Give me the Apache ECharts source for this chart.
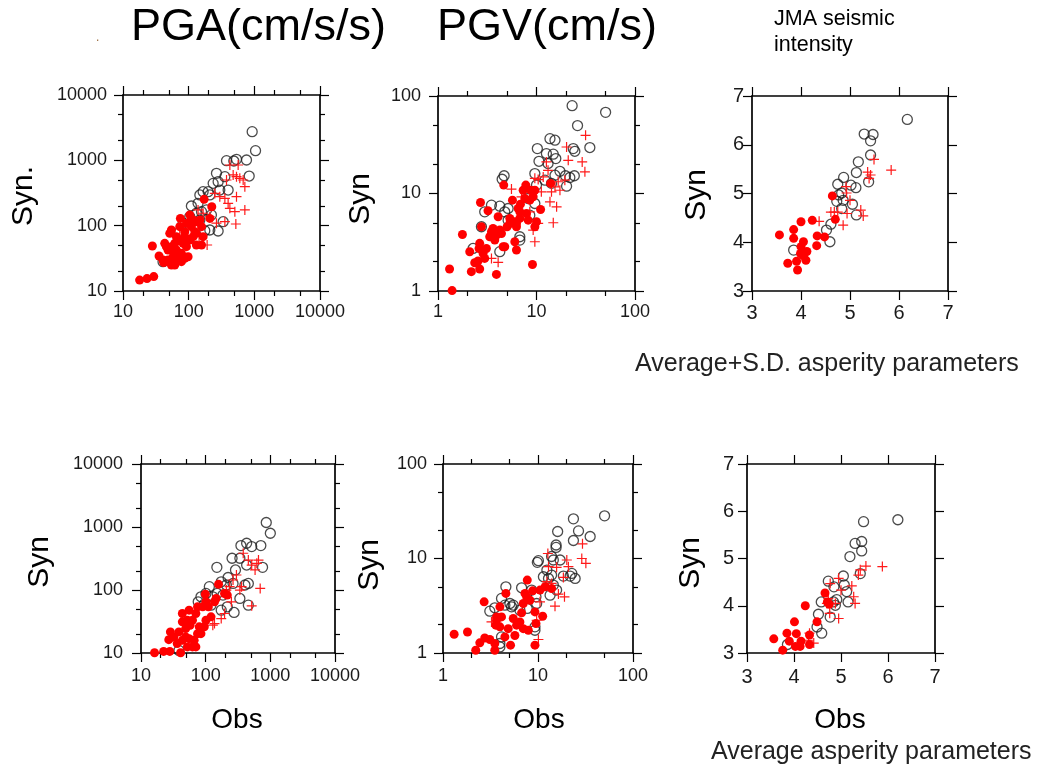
<!DOCTYPE html>
<html><head><meta charset="utf-8">
<script src="https://cdn.jsdelivr.net/npm/echarts@6/dist/echarts.min.js"></script>
<style>html,body{margin:0;padding:0;background:#fff}#c{width:1043px;height:766px}</style>
</head><body><div id="c"></div>
<script>
// ---- tick values ----
const pgaTicks = [10, 100, 1000, 10000];
const pgaMinor = [20, 50, 200, 500, 2000, 5000];
const pgvTicks = [1, 10, 100];
const pgvMinor = [2, 5, 20, 50];
const jmaTicks = [3, 4, 5, 6, 7];

// ---- Average+S.D. asperity parameters (top row): [Obs, Syn] ----
const pgaTopCircle = [[927,2748],[1043,1406],[760,1012],[535,1035],[377,988],[487,977],[835,575],[265,632],[356,562],[236,444],[281,471],[198,331],[166,331],[148,295],[210,295],[298,351],[110,200],[139,220],[187,174],[157,164],[131,155],[222,146],[335,115],[281,82.8],[176,83.8],[210,85.8],[399,351],[148,122],[104,137],[82.2,109],[73.1,80.9],[40.7,28.1]];
const pgaTopPlus = [[73.1,71.9],[92.5,67.9],[144,69.5],[191,50.6],[265,109],[356,115],[424,184],[505,164],[717,174],[523,106],[399,220],[535,278],[601,530],[717,395],[535,562],[476,597],[567,849],[424,849],[377,500],[298,278],[250,312],[210,137],[166,155],[139,174],[356,262],[676,500]];
const pgaTopDot = [[17.9,14.7],[23.2,15.5],[29.4,16.6],[28.0,48.8],[35.4,34.3],[40.7,29.8],[41.7,27.2],[54.6,25.0],[57.9,33.5],[48.5,42.4],[43.2,53.7],[51.5,76.3],[54.6,85.8],[74.8,129],[104,146],[73.1,96.5],[87.3,67.9],[110,96.5],[117,67.9],[92.5,47.7],[77.6,37.7],[65.0,42.4],[61.4,53.7],[69.0,60.3],[82.2,53.7],[98.0,60.3],[104,115],[131,115],[148,122],[157,96.5],[157,50.6],[172,253],[225,195],[210,129],[166,67.9],[131,76.3],[69.0,29.8],[61.4,25.0],[87.3,31.6],[45.8,47.7],[54.6,47.7],[65.0,67.9],[87.3,80.9],[104,60.3],[124,80.9],[61.4,37.7],[77.6,28.1],[98.0,33.5],[48.5,29.8],[131,50.6],[92.5,109],[117,122]];

const pgvTopCircle = [[23.0,79.6],[50.3,68.0],[26.1,49.7],[34.8,29.6],[23.6,28.9],[24.5,27.1],[13.7,36.5],[15.4,35.2],[10.2,28.9],[12.6,25.7],[14.8,25.3],[15.7,22.8],[10.6,21.4],[13.1,20.3],[17.3,16.9],[19.7,15.2],[21.8,14.6],[24.2,15.2],[20.2,11.9],[15.4,15.4],[9.62,16.0],[4.69,15.2],[4.48,14.0],[4.24,7.42],[3.49,7.60],[2.98,6.49],[4.76,6.49],[5.15,7.02],[2.76,4.56],[2.27,2.73],[4.24,2.53],[6.77,3.60],[8.55,6.00],[9.62,7.90],[8.23,8.89],[12.2,13.7],[14.2,12.7],[10.0,12.2],[6.77,3.33],[5.15,5.33]];
const pgvTopPlus = [[5.57,11.1],[7.04,9.25],[9.62,14.3],[10.4,13.9],[11.7,14.8],[12.6,21.1],[13.1,17.3],[11.2,10.4],[13.7,8.22],[16.0,7.30],[14.2,10.4],[17.3,10.8],[19.4,13.7],[20.2,30.0],[21.0,21.9],[29.1,21.1],[31.5,39.5],[31.0,16.7],[9.62,3.20],[9.25,4.22],[14.8,5.01],[10.4,4.93],[16.6,13.2],[15.4,11.7],[3.49,2.16],[4.08,1.97],[8.55,6.49]];
const pgvTopDot = [[1.31,1.68],[1.39,1.01],[1.77,3.80],[2.18,1.58],[2.65,1.68],[2.10,2.53],[2.36,1.95],[2.55,2.03],[2.65,3.08],[2.76,4.56],[2.70,8.09],[3.22,6.65],[2.61,2.73],[2.87,2.43],[3.10,2.73],[2.98,2.16],[3.35,3.60],[3.49,4.05],[3.77,3.33],[3.92,3.74],[4.08,5.77],[4.24,4.22],[4.41,3.89],[4.65,12.2],[4.58,2.84],[4.76,2.84],[5.03,4.56],[5.36,4.93],[5.70,8.55],[6.02,5.13],[6.26,4.56],[6.51,7.02],[6.26,4.93],[6.77,5.55],[6.87,7.78],[7.32,10.8],[7.61,8.89],[7.79,12.2],[7.91,6.24],[8.55,8.55],[8.75,10.8],[9.25,9.25],[9.62,10.8],[10.0,5.13],[9.62,4.56],[11.0,6.86],[6.26,2.63],[6.02,3.20],[3.92,1.48],[9.10,1.87],[13.9,12.7],[5.36,5.55],[3.62,4.38],[6.77,6.49],[8.23,5.33]];

const jmaTopCircle = [[6.17,6.52],[5.29,6.22],[5.47,6.21],[5.42,6.08],[5.42,5.79],[5.17,5.65],[5.13,5.43],[4.87,5.33],[4.75,5.19],[4.83,5.01],[5.02,5.17],[5.12,5.12],[5.05,4.78],[4.83,4.69],[4.86,4.86],[4.73,4.84],[4.77,4.97],[5.13,4.56],[4.59,4.01],[4.52,4.25],[4.61,4.37],[3.85,3.84],[5.38,5.24]];
const jmaTopPlus = [[4.37,4.43],[4.61,4.62],[4.68,4.62],[4.75,4.62],[4.86,4.35],[4.94,4.59],[4.92,5.14],[4.93,5.01],[5.00,4.86],[5.22,4.66],[5.27,4.54],[5.36,5.44],[5.39,5.31],[5.49,5.70],[5.84,5.48],[5.42,5.38]];
const jmaTopDot = [[3.56,4.15],[3.85,4.26],[3.85,4.08],[4.00,4.42],[4.00,3.91],[4.05,4.01],[3.99,3.77],[4.12,3.81],[4.05,3.72],[3.91,3.61],[3.73,3.57],[4.10,3.63],[3.93,3.43],[4.23,4.45],[4.33,4.13],[4.32,3.93],[4.48,4.11],[4.64,4.95],[4.70,4.47]];

// ---- Average asperity parameters (bottom row) ----
const pgaBotCircle = [[865,1178],[1000,796],[713,507],[515,489],[430,552],[351,507],[338,319],[256,319],[149,229],[758,229],[430,249],[289,208],[222,158],[174,135],[209,120],[265,127],[405,120],[457,127],[114,113],[101,88.1],[84.5,78.0],[76.7,65.0],[95.3,59.6],[121,57.5],[151,88.1],[185,83.0],[216,54.1],[275,44.0],[338,73.4],[457,57.5],[174,47.9],[38.6,11.0],[129,78.0]];
const pgaBotPlus = [[381,383],[457,299],[656,299],[515,249],[581,208],[618,265],[697,106],[515,56.1],[359,113],[299,173],[265,144],[235,113],[209,99.6],[250,65.0],[196,42.4],[174,35.2],[129,27.6],[137,29.3],[338,99.6]];
const pgaBotDot = [[16.2,10.1],[22.4,10.6],[27.9,10.6],[41.0,10.1],[26.9,16.3],[28.5,21.6],[43.6,42.4],[43.6,31.2],[55.4,47.9],[52.1,33.1],[57.4,27.6],[49.1,24.4],[38.6,21.6],[32.2,18.0],[43.6,15.9],[55.4,16.9],[66.4,15.9],[70.5,12.5],[74.9,20.3],[84.5,20.3],[79.6,26.0],[62.5,33.1],[70.5,42.4],[74.9,54.1],[89.8,54.1],[101,65.0],[98.8,86.0],[110,54.1],[137,65.0],[145,73.4],[158,123],[196,88.1],[216,83.0],[121,37.5],[101,33.1],[95.3,26.0],[62.5,12.5],[52.1,12.5],[49.1,18.0],[36.3,14.1]];

const pgvBotCircle = [[23.6,26.3],[50.2,28.3],[26.7,19.6],[16.1,19.3],[23.6,15.5],[35.4,17.1],[15.5,13.9],[15.5,13.1],[10.1,9.49],[9.84,9.10],[13.9,10.5],[14.5,9.64],[17.1,9.64],[12.4,7.55],[11.4,6.41],[12.9,6.15],[13.9,6.68],[22.7,6.95],[24.6,6.15],[21.8,6.52],[18.5,6.52],[14.5,5.23],[15.7,4.63],[13.4,4.09],[4.59,5.02],[6.72,4.90],[8.57,4.63],[9.52,3.93],[4.13,3.78],[5.06,3.34],[5.49,3.21],[3.11,2.77],[3.51,3.01],[6.45,2.84],[7.71,2.96],[9.68,3.34],[9.29,1.89],[9.29,1.74],[3.97,1.26],[4.13,1.48],[3.97,1.16],[5.27,3.08],[4.48,3.21]];
const pgvBotPlus = [[12.7,11.3],[12.9,8.19],[15.7,8.06],[20.1,9.64],[20.9,8.19],[29.4,14.3],[28.9,10.0],[31.9,8.89],[12.4,5.68],[13.9,5.45],[18.5,6.31],[16.4,4.20],[19.0,3.93],[15.1,3.13],[9.68,2.22],[10.1,1.39],[3.24,2.13],[10.5,3.48]];
const pgvBotDot = [[1.31,1.58],[1.81,1.67],[2.21,1.07],[2.44,1.28],[2.75,1.44],[3.11,1.39],[3.51,1.07],[3.51,1.26],[2.71,3.48],[3.97,3.08],[4.13,2.41],[3.66,2.41],[3.60,1.97],[3.97,1.89],[4.59,4.27],[4.86,1.81],[5.49,2.32],[5.71,1.53],[5.95,1.97],[6.45,2.13],[6.72,2.66],[7.00,3.34],[7.29,4.27],[7.59,3.93],[7.71,5.91],[8.23,3.62],[8.78,4.55],[9.29,2.72],[9.52,2.05],[10.5,4.63],[11.2,2.45],[11.9,5.02],[13.9,4.82],[9.29,1.21],[5.14,1.21],[4.48,1.48],[3.66,2.22],[7.00,1.81],[7.91,1.74]];

const jmaBotCircle = [[6.21,5.82],[5.48,5.78],[5.44,5.36],[5.30,5.32],[5.44,5.16],[5.19,5.04],[5.41,4.68],[5.05,4.63],[4.73,4.52],[4.85,4.40],[5.07,4.44],[5.12,4.30],[5.15,4.08],[4.91,4.13],[4.58,4.08],[4.84,4.08],[4.88,4.01],[4.77,3.76],[4.52,3.82],[4.49,3.55],[4.59,3.42],[3.86,3.18]];
const jmaBotPlus = [[5.88,4.83],[5.53,4.84],[5.41,4.76],[5.37,4.65],[5.23,4.42],[5.27,4.19],[5.30,4.05],[4.95,4.58],[5.00,4.33],[4.77,4.47],[4.73,4.15],[4.70,4.05],[4.88,4.05],[4.76,3.84],[4.95,3.73],[4.33,3.42],[4.42,3.21],[4.31,3.27]];
const jmaBotDot = [[3.57,3.30],[3.76,3.06],[3.85,3.42],[3.90,3.25],[4.01,3.66],[4.05,3.41],[4.03,3.14],[4.13,3.14],[4.15,3.25],[4.24,4.00],[4.33,3.38],[4.33,3.18],[4.49,3.66],[4.66,4.27],[4.71,4.08],[4.75,4.03]];

// ---- layout ----
const FONT = '"Liberation Sans", Arial, Helvetica, sans-serif';
const panels = [
  {grid:{left:123,top:95,width:197,height:196}, type:'log', min:10, max:10000, ticks:pgaTicks, minor:pgaMinor, xm:12, ym:16, fs:18, sets:[pgaTopCircle,pgaTopPlus,pgaTopDot]},
  {grid:{left:438,top:96,width:197,height:195}, type:'log', min:1, max:100, ticks:pgvTicks, minor:pgvMinor, xm:12, ym:17, fs:18, sets:[pgvTopCircle,pgvTopPlus,pgvTopDot]},
  {grid:{left:752,top:96,width:196,height:195}, type:'value', min:3, max:7, ticks:jmaTicks, minor:null, xm:12, ym:8, fs:20, sets:[jmaTopCircle,jmaTopPlus,jmaTopDot]},
  {grid:{left:141,top:464,width:194,height:189}, type:'log', min:10, max:10000, ticks:pgaTicks, minor:pgaMinor, xm:14, ym:18, fs:18, sets:[pgaBotCircle,pgaBotPlus,pgaBotDot]},
  {grid:{left:443,top:464,width:190,height:189}, type:'log', min:1, max:100, ticks:pgvTicks, minor:pgvMinor, xm:14, ym:16, fs:18, sets:[pgvBotCircle,pgvBotPlus,pgvBotDot]},
  {grid:{left:747,top:464,width:188,height:189}, type:'value', min:3, max:7, ticks:jmaTicks, minor:null, xm:14, ym:13, fs:20, sets:[jmaBotCircle,jmaBotPlus,jmaBotDot]}
];

const grids = [], xAxes = [], yAxes = [], series = [];

function mkAxis(p, gi, pos, major, labels) {
  const isX = (pos === 'bottom' || pos === 'top');
  const a = {
    type: p.type, gridIndex: gi, position: pos, min: p.min, max: p.max,
    axisLine: {show: major, onZero: false, lineStyle: {color: '#000', width: 1.7}},
    axisTick: {show: true, inside: false, length: major ? 9 : 5, lineStyle: {color: '#000', width: 1.2},
               customValues: major ? p.ticks : p.minor},
    axisLabel: {show: labels, customValues: p.ticks, formatter: v => String(Math.round(v * 1000) / 1000),
                fontFamily: FONT, fontSize: p.fs, color: '#1a1a1a', margin: isX ? p.xm : p.ym},
    splitLine: {show: false}, splitArea: {show: false},
    minorTick: {show: false}, minorSplitLine: {show: false},
    silent: true
  };
  if (p.type === 'log') a.logBase = 10; else a.interval = 1;
  return a;
}

const circleStyle = {symbol: 'circle', symbolSize: 10, itemStyle: {color: 'rgba(255,255,255,0)', borderColor: 'rgba(30,30,30,0.8)', borderWidth: 1.3, opacity: 1}};
const plusStyle = {symbol: 'path://M0,5L10,5M5,0L5,10', symbolSize: 10, itemStyle: {color: 'rgba(255,255,255,0)', borderColor: '#ff1a1a', borderWidth: 1.2, opacity: 1}};
const dotStyle = {symbol: 'circle', symbolSize: 9, itemStyle: {color: '#ff0000', borderWidth: 0, opacity: 1}};
const styles = [circleStyle, plusStyle, dotStyle];

panels.forEach((p, gi) => {
  grids.push(Object.assign({containLabel: false}, p.grid));
  const xi = xAxes.length, yi = yAxes.length;
  xAxes.push(mkAxis(p, gi, 'bottom', true, true));
  xAxes.push(mkAxis(p, gi, 'top', true, false));
  yAxes.push(mkAxis(p, gi, 'left', true, true));
  yAxes.push(mkAxis(p, gi, 'right', true, false));
  if (p.minor) {
    xAxes.push(mkAxis(p, gi, 'bottom', false, false));
    xAxes.push(mkAxis(p, gi, 'top', false, false));
    yAxes.push(mkAxis(p, gi, 'left', false, false));
    yAxes.push(mkAxis(p, gi, 'right', false, false));
  }
  p.sets.forEach((d, k) => {
    series.push(Object.assign({
      type: 'scatter', xAxisIndex: xi, yAxisIndex: yi, data: d, z: 2 + k,
      emphasis: {disabled: true}, silent: true
    }, JSON.parse(JSON.stringify(styles[k]))));
  });
});

function txt(s, x, y, size, opts) {
  return Object.assign({type: 'text', x: x, y: y, silent: true,
    style: Object.assign({text: s, fontFamily: FONT, fontSize: size, fill: '#000', align: 'left', verticalAlign: 'middle'}, (opts && opts.style) || {})},
    (opts && opts.el) || {});
}

const graphics = [
  txt('PGA(cm/s/s)', 131, 28, 45),
  txt('PGV(cm/s)', 437, 28, 45),
  txt('.', 96, 38, 12, {style: {fill: '#9a6a3a'}}),
  txt('JMA seismic', 774, 19, 21.5),
  txt('intensity', 774, 45, 21.5),
  txt('Average+S.D. asperity parameters', 635, 364, 25, {style: {fill: '#222'}}),
  txt('Average asperity parameters', 711, 752, 25, {style: {fill: '#222'}}),
  txt('Syn.', 24, 196, 30, {style: {align: 'center'}, el: {rotation: Math.PI / 2}}),
  txt('Syn', 361, 199, 30, {style: {align: 'center'}, el: {rotation: Math.PI / 2}}),
  txt('Syn', 697, 195, 30, {style: {align: 'center'}, el: {rotation: Math.PI / 2}}),
  txt('Syn', 40, 562, 30, {style: {align: 'center'}, el: {rotation: Math.PI / 2}}),
  txt('Syn', 370, 565, 30, {style: {align: 'center'}, el: {rotation: Math.PI / 2}}),
  txt('Syn', 691, 563, 30, {style: {align: 'center'}, el: {rotation: Math.PI / 2}}),
  txt('Obs', 237, 720, 28, {style: {align: 'center'}}),
  txt('Obs', 539, 720, 28, {style: {align: 'center'}}),
  txt('Obs', 840, 720, 28, {style: {align: 'center'}})
];

const chart = echarts.init(document.getElementById('c'), null, {renderer: 'canvas'});
chart.setOption({
  animation: false,
  backgroundColor: '#fff',
  grid: grids,
  xAxis: xAxes,
  yAxis: yAxes,
  series: series,
  graphic: graphics
});
</script>
</body></html>
